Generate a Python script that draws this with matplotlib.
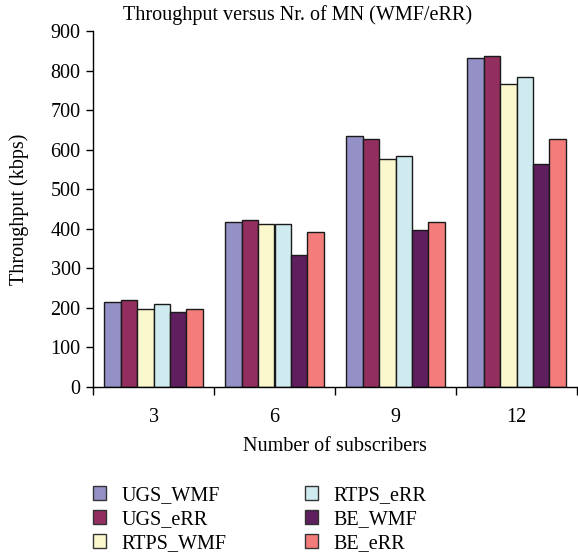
import matplotlib
matplotlib.use("Agg")
import matplotlib.pyplot as plt
import numpy as np
from matplotlib.patches import Patch

plt.rcParams['font.family'] = ['Liberation Serif', 'DejaVu Serif']

categories = ["3", "6", "9", "12"]
series_names = ["UGS_WMF", "UGS_eRR", "RTPS_WMF", "RTPS_eRR", "BE_WMF", "BE_eRR"]
ugs_wmf = [215, 417, 635, 833]
ugs_err = [219, 423, 628, 838]
rtps_wmf = [197, 411, 577, 765]
rtps_err = [210, 413, 583, 783]
be_wmf = [190, 333, 397, 563]
be_err = [197, 391, 417, 628]
series = [ugs_wmf, ugs_err, rtps_wmf, rtps_err, be_wmf, be_err]
colors = ["#9391C5", "#922F5E", "#FBF8CE", "#CFEBEF", "#5F1E5E", "#F47D7C"]

fig = plt.figure(figsize=(5.78, 5.58), dpi=100)
ax = fig.add_axes([93/578, 1-387/558, (577-93)/578, (387-31)/558])

x = np.arange(len(categories))
w = 0.135
n = len(series)
for i, (vals, c, name) in enumerate(zip(series, colors, series_names)):
    ax.bar(x + (i - (n-1)/2) * w, vals, width=w, color=c, edgecolor="#1a1a1a",
           linewidth=1.0, label=name)

ax.set_xlim(-0.5, len(categories) - 0.5)
ax.set_ylim(0, 900)
ax.set_yticks(range(0, 901, 100))
ax.set_xticks(np.arange(len(categories) + 1) - 0.5)
ax.set_xticklabels([])
ax.set_xticks(x, minor=True)
ax.set_xticklabels(categories, minor=True)
ax.tick_params(axis='x', which='major', length=6, width=1, direction='out')
ax.tick_params(axis='x', which='minor', length=0, pad=15, labelsize=14.5)
ax.tick_params(axis='y', length=5, width=1, direction='out', labelsize=14.5, pad=4)
for s in ["top", "right"]:
    ax.spines[s].set_visible(False)
for s in ["left", "bottom"]:
    ax.spines[s].set_linewidth(1.0)

ax.set_ylabel("Throughput (kbps)", fontsize=14.5)
ax.yaxis.set_label_coords((29-93)/484, 0.5)
ax.set_xlabel("Number of subscribers", fontsize=14.5, labelpad=7)
fig.text(298/578, 1-15/558, "Throughput versus Nr. of MN (WMF/eRR)", ha="center",
         va="center", fontsize=14.5)

handles = [Patch(facecolor=c, edgecolor="#333333", linewidth=1.0, label=nm)
           for c, nm in zip(colors, series_names)]
leg = fig.legend(handles=handles, ncol=2, loc="upper left",
                 bbox_to_anchor=(83/578, 1-476/558), frameon=False, fontsize=14.5,
                 handlelength=0.65, handleheight=0.65, handletextpad=0.75,
                 columnspacing=3.9, labelspacing=0.25, borderpad=0)

fig.savefig("out.png", dpi=100)
